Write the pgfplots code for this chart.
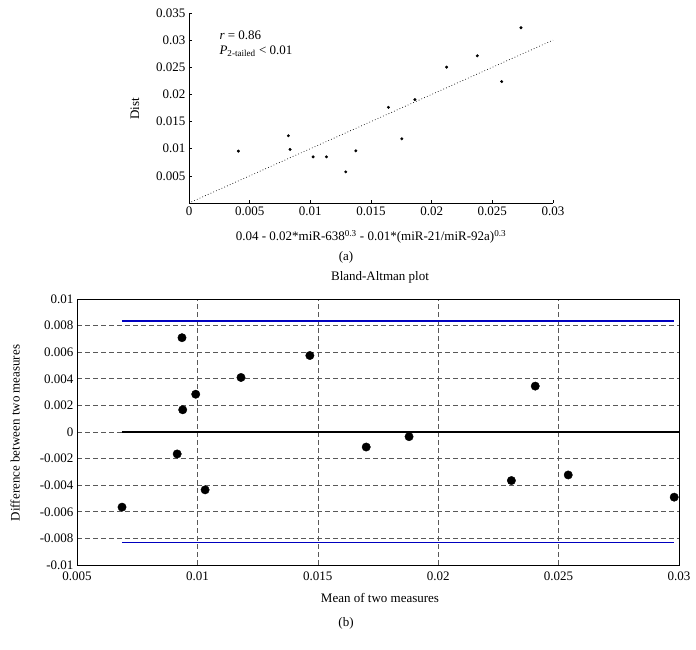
\documentclass[border=0pt]{standalone}
\usepackage{fontspec}
\setmainfont{Liberation Serif}
\usepackage{pgfplots}
\pgfplotsset{compat=1.18}
\pgfplotsset{every axis/.append style={scaled ticks=false, /pgf/number format/assume math mode=true}}
\begin{document}
\begin{tikzpicture}[font=\fontsize{13}{15}\selectfont]
\path[use as bounding box] (0pt,0pt) rectangle (696pt,650pt);
% ---------- (a) ----------
\begin{axis}[at={(189pt,447pt)}, anchor=south west, scale only axis,
  width=364pt, height=190pt,
  xmin=0, xmax=0.03, ymin=0, ymax=0.035,
  axis x line*=bottom, axis y line*=left,
  axis line style={-, line width=0.6pt},
  xtick={0,0.005,0.01,0.015,0.02,0.025,0.03},
  ytick={0.005,0.01,0.015,0.02,0.025,0.03,0.035},
  xticklabels={0,0.005,0.01,0.015,0.02,0.025,0.03},
  yticklabels={0.005,0.01,0.015,0.02,0.025,0.03,0.035},
  tick align=inside, major tick length=3pt,
  tick style={black, line width=0.6pt},
  clip=false]
\addplot[black, line width=0.7pt, dash pattern=on 0.7pt off 2.3pt] coordinates {(0.0002,0.0002) (0.03,0.03)};
\addplot[only marks, mark=*, mark size=1.3pt, black] coordinates {
(0.00407,0.00955) (0.00819,0.01239) (0.00833,0.00986) (0.01023,0.0085)
(0.01133,0.0085) (0.01292,0.00573) (0.01375,0.00961) (0.01644,0.01762)
(0.01754,0.01183) (0.01862,0.01904) (0.02123,0.02502) (0.02376,0.02711)
(0.02577,0.02237) (0.02736,0.03229)};
\end{axis}
\node[anchor=west] at (216pt,615pt) {\textit{r} = 0.86};
\node[anchor=west] at (216pt,599pt) {\textit{P}\textsubscript{2-tailed} \textless{} 0.01};
\node[rotate=90] at (135pt,541pt) {Dist};
\node at (371pt,413pt) {0.04 - 0.02*miR-638\textsuperscript{0.3} - 0.01*(miR-21/miR-92a)\textsuperscript{0.3}};
\node at (346pt,393pt) {(a)};
% ---------- (b) ----------
\begin{axis}[at={(77pt,85pt)}, anchor=south west, scale only axis,
  width=602pt, height=266pt,
  xmin=0.005, xmax=0.03, ymin=-0.01, ymax=0.01,
  xtick={0.005,0.01,0.015,0.02,0.025,0.03},
  xticklabels={0.005,0.01,0.015,0.02,0.025,0.03},
  ytick={-0.01,-0.008,-0.006,-0.004,-0.002,0,0.002,0.004,0.006,0.008,0.01},
  yticklabels={-0.01,-0.008,-0.006,-0.004,-0.002,0,0.002,0.004,0.006,0.008,0.01},
  major tick length=0pt,
  xticklabel style={yshift=-3pt},
  grid=major,
  major grid style={black!65, dash pattern=on 5pt off 3pt, line width=0.6pt},
  axis line style={black, line width=0.8pt},
  clip=false]
\addplot[black, line width=1.1pt] coordinates {(0.00686,0) (0.03,0)};
\addplot[blue!75!black, line width=1.2pt] coordinates {(0.00686,0.00835) (0.02978,0.00835)};
\addplot[blue!75!black, line width=1.2pt] coordinates {(0.00686,-0.00828) (0.02978,-0.00828)};
\addplot[only marks, mark=*, mark size=4.2pt, black] coordinates {
(0.00936,0.00709) (0.01467,0.00575) (0.01181,0.0041) (0.00993,0.00284)
(0.00939,0.00167) (0.00916,-0.00165) (0.01032,-0.00435) (0.00687,-0.00565)
(0.01701,-0.00113) (0.01879,-0.00035) (0.02403,0.00345) (0.02304,-0.00365)
(0.0254,-0.00323) (0.0298,-0.0049)};
\end{axis}
\node at (380pt,373pt) {Bland-Altman plot};
\node[rotate=90] at (15pt,217pt) {Difference between two measures};
\node at (380pt,52pt) {Mean of two measures};
\node at (346pt,27pt) {(b)};
\end{tikzpicture}
\end{document}
